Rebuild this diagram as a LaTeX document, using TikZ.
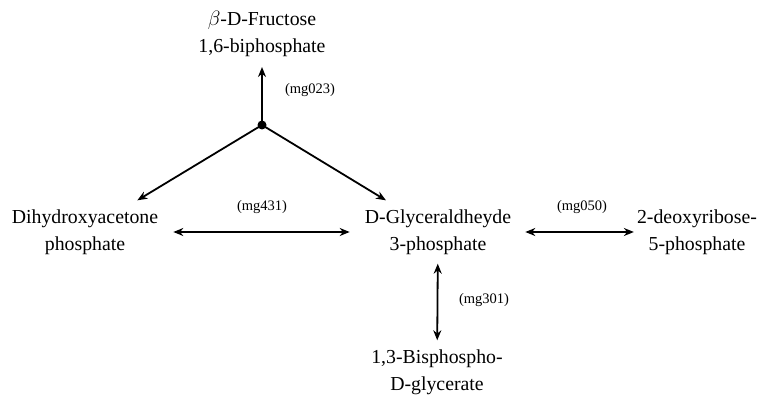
\documentclass[tikz,border=0pt]{standalone}
\usepackage{fontspec}
\setmainfont{Liberation Serif}
\usetikzlibrary{arrows.meta}
\begin{document}
\begin{tikzpicture}[x=1pt,y=-1pt,
  met/.style={align=center,font=\fontsize{19.8}{27}\selectfont,inner sep=9pt},
  lab/.style={font=\fontsize{14.5}{16}\selectfont},
  rx/.style={line width=1.8pt,-{Stealth[length=10pt,width=8pt]}},
  rxb/.style={line width=1.8pt,{Stealth[length=10pt,width=8pt]}-{Stealth[length=10pt,width=8pt]}}]
\useasboundingbox (0,0) rectangle (771,398);
\node[met] (fru) at (262,34) {$\beta$-D-Fructose\\1,6-biphosphate};
\node[met] (dhap) at (85,232) {Dihydroxyacetone\\phosphate};
\node[met] (g3p) at (438,232) {D-Glyceraldheyde\\3-phosphate};
\node[met] (dr5p) at (697,232) {2-deoxyribose-\\5-phosphate};
\node[met] (bpg) at (437,372) {1,3-Bisphospho-\\D-glycerate};
\fill (262,125) circle (4.5pt);
\coordinate (dot) at (262,125);
\draw[rx,shorten >=1pt] (dot) -- (fru);
\draw[rx] (dot) -- (dhap);
\draw[rx] (dot) -- (g3p);
\draw[rxb,shorten <=6pt,shorten >=6pt] (dhap) -- (g3p);
\draw[rxb,shorten <=5pt,shorten >=-6pt] (g3p) -- (dr5p);
\draw[rxb,shorten <=0pt,shorten >=0pt] (g3p) -- (bpg);
\node[lab] (l1) at (310,90) {(mg023)};
\node[lab] (l2) at (262,207) {(mg431)};
\node[lab] (l3) at (582,207) {(mg050)};
\node[lab] (l4) at (484,300) {(mg301)};
\end{tikzpicture}
\end{document}
